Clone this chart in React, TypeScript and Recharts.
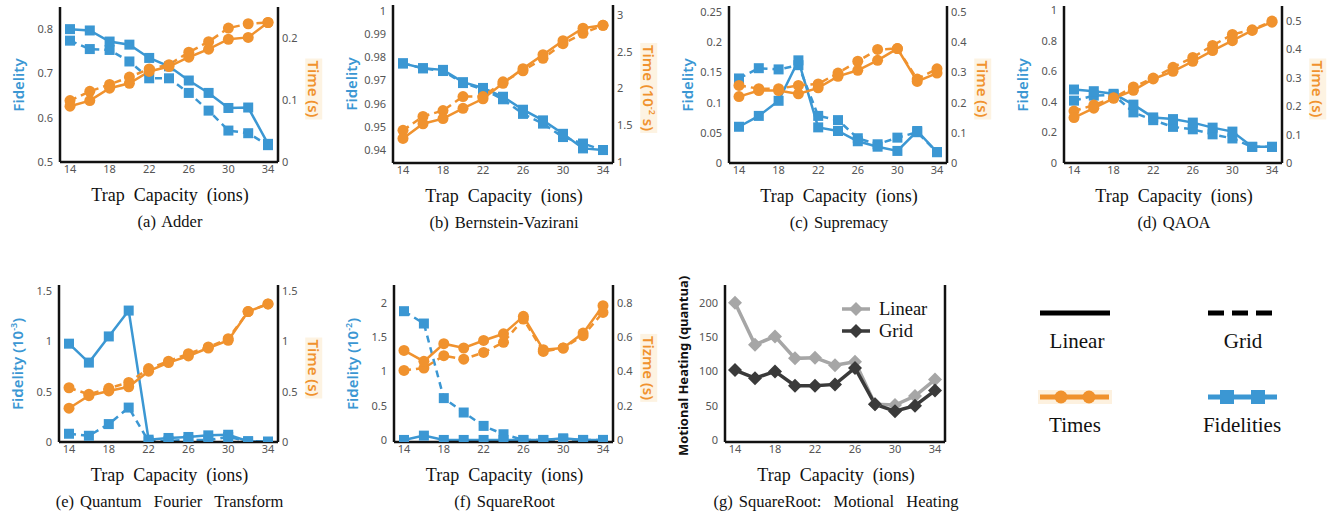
import React from 'react';
import { LineChart, Line, XAxis, YAxis, Legend } from 'recharts';

const BLUE = '#3b97d3';
const ORANGE = '#f0922e';
const LIGHT = '#a6a6a6';
const DARK = '#3a3a3a';

const caps = [14, 16, 18, 20, 22, 24, 26, 28, 30, 32, 34];
const capTicks = [14, 18, 22, 26, 30, 34];

// (a) Adder
const adderFidLinear = [0.8, 0.797, 0.772, 0.765, 0.735, 0.716, 0.684, 0.656, 0.622, 0.623, 0.541];
const adderFidGrid = [0.774, 0.755, 0.753, 0.727, 0.689, 0.689, 0.656, 0.616, 0.571, 0.565, 0.538];
const adderTimeLinear = [0.09, 0.099, 0.119, 0.127, 0.146, 0.154, 0.169, 0.182, 0.198, 0.201, 0.225];
const adderTimeGrid = [0.099, 0.114, 0.125, 0.137, 0.15, 0.157, 0.177, 0.194, 0.216, 0.223, 0.225];

// (b) Bernstein-Vazirani
const bvFidLinear = [0.9774, 0.9753, 0.9746, 0.9693, 0.9668, 0.963, 0.9574, 0.9528, 0.947, 0.9407, 0.94];
const bvFidGrid = [0.9774, 0.9753, 0.9741, 0.9689, 0.9662, 0.9619, 0.9556, 0.9514, 0.9456, 0.9428, 0.94];
const bvTimeLinear = [1.32, 1.52, 1.59, 1.73, 1.86, 2.07, 2.27, 2.46, 2.65, 2.82, 2.86];
const bvTimeGrid = [1.43, 1.62, 1.7, 1.89, 1.89, 2.09, 2.24, 2.41, 2.61, 2.75, 2.86];

// (c) Supremacy
const supFidLinear = [0.06, 0.078, 0.103, 0.17, 0.059, 0.053, 0.036, 0.027, 0.02, 0.053, 0.018];
const supFidGrid = [0.14, 0.157, 0.155, 0.162, 0.078, 0.071, 0.041, 0.031, 0.042, 0.051, 0.018];
const supTimeLinear = [0.22, 0.24, 0.24, 0.229, 0.249, 0.287, 0.307, 0.34, 0.379, 0.27, 0.298];
const supTimeGrid = [0.257, 0.246, 0.246, 0.257, 0.262, 0.298, 0.337, 0.376, 0.379, 0.278, 0.312];

// (d) QAOA
const qaoaFidLinear = [0.482, 0.471, 0.454, 0.383, 0.299, 0.288, 0.265, 0.232, 0.206, 0.106, 0.106];
const qaoaFidGrid = [0.409, 0.442, 0.447, 0.332, 0.281, 0.237, 0.221, 0.188, 0.161, 0.106, 0.106];
const qaoaTimeLinear = [0.16, 0.193, 0.228, 0.256, 0.296, 0.323, 0.358, 0.396, 0.431, 0.467, 0.496];
const qaoaTimeGrid = [0.183, 0.204, 0.23, 0.268, 0.299, 0.337, 0.372, 0.414, 0.453, 0.469, 0.5];

// (e) Quantum Fourier Transform
const qftFidLinear = [0.977, 0.789, 1.049, 1.306, 0.023, 0.04, 0.05, 0.066, 0.072, 0.007, 0];
const qftFidGrid = [0.082, 0.062, 0.178, 0.342, 0.007, 0.012, 0.02, 0.02, 0.05, 0.007, 0.005];
const qftTimeLinear = [0.336, 0.46, 0.507, 0.549, 0.704, 0.789, 0.855, 0.934, 1.01, 1.296, 1.372];
const qftTimeGrid = [0.539, 0.474, 0.533, 0.592, 0.73, 0.803, 0.878, 0.944, 1.026, 1.296, 1.372];

// (f) SquareRoot
const sqrtFidLinear = [0, 0.063, 0, 0, 0, 0, 0, 0, 0.024, 0, 0];
const sqrtFidGrid = [1.878, 1.698, 0.61, 0.4, 0.205, 0.083, 0, 0, 0.01, 0, 0];
const sqrtTimeLinear = [0.523, 0.459, 0.562, 0.537, 0.581, 0.62, 0.722, 0.527, 0.537, 0.624, 0.784];
const sqrtTimeGrid = [0.406, 0.42, 0.492, 0.472, 0.511, 0.57, 0.706, 0.517, 0.537, 0.609, 0.745];

// (g) SquareRoot: motional heating
const heatLinear = [200, 139, 151, 119, 120, 109, 114, 52, 51, 64, 88];
const heatGrid = [102, 90, 100, 79, 79, 81, 105, 52, 42, 50, 72];

const rowsFor = (fl, fg, tl, tg) =>
  caps.map((cap, i) => ({ cap, fl: fl[i], fg: fg[i], tl: tl[i], tg: tg[i] }));

const tickStyle = { fontSize: 11, fill: '#555', fontFamily: 'Noto Sans' };
const frameLine = { stroke: '#111', strokeWidth: 2.5 };
const serif = '"Times New Roman", "Liberation Serif", "DejaVu Serif", serif';

const squareDot = (color) => (p) =>
  p.cx == null ? null : (
    <rect key={`sq-${p.index}`} x={p.cx - 5} y={p.cy - 5} width={10} height={10} fill={color} />
  );
const circleDot = (color) => (p) =>
  p.cx == null ? null : <circle key={`ci-${p.index}`} cx={p.cx} cy={p.cy} r={5.5} fill={color} />;
const diamondDot = (color) => (p) =>
  p.cx == null ? null : (
    <polygon
      key={`di-${p.index}`}
      points={`${p.cx},${p.cy - 7} ${p.cx + 7},${p.cy} ${p.cx},${p.cy + 7} ${p.cx - 7},${p.cy}`}
      fill={color}
    />
  );

function Frame({ x0, x1, y0, y1, data, left, right, children }) {
  return (
    <div style={{ position: 'absolute', left: x0 - 45, top: y0 - 5 }}>
      <LineChart
        width={x1 - x0 + 90}
        height={y1 - y0 + 30}
        data={data}
        margin={{ top: 5, right: 0, bottom: 0, left: 0 }}
      >
        <XAxis
          dataKey="cap"
          type="number"
          domain={[14, 34]}
          ticks={capTicks}
          padding={{ left: 10, right: 10 }}
          height={25}
          axisLine={frameLine}
          tickLine={false}
          tick={tickStyle}
          tickSize={2}
          tickMargin={1}
          interval={0}
        />
        <XAxis
          xAxisId="top"
          orientation="top"
          dataKey="cap"
          type="number"
          domain={[14, 34]}
          height={0}
          tick={false}
          tickLine={false}
          axisLine={frameLine}
        />
        <YAxis
          yAxisId="l"
          domain={left.domain}
          ticks={left.ticks}
          allowDataOverflow
          width={45}
          axisLine={frameLine}
          tickLine={false}
          tick={tickStyle}
          tickSize={4}
          tickMargin={3}
          interval={0}
        />
        <YAxis
          yAxisId="r"
          orientation="right"
          domain={right.domain}
          ticks={right.ticks}
          allowDataOverflow
          width={45}
          axisLine={frameLine}
          tickLine={false}
          tick={right.ticks.length ? tickStyle : false}
          tickSize={3}
          tickMargin={1}
          interval={0}
        />
        {children}
      </LineChart>
    </div>
  );
}

function Titles({ x0, x1, y1, caption, children }) {
  const cx = (x0 + x1) / 2;
  return (
    <>
      <div
        style={{
          position: 'absolute', left: cx + 1, top: y1 + 33, transform: 'translate(-50%, -50%)',
          fontFamily: serif, fontSize: 18, whiteSpace: 'pre', color: '#111',
        }}
      >
        {'Trap  Capacity  (ions)'}
      </div>
      <div
        style={{
          position: 'absolute', left: cx + 1, top: y1 + 60, transform: 'translate(-50%, -50%)',
          fontFamily: serif, fontSize: 16.5, wordSpacing: 2, whiteSpace: 'pre', color: '#111',
        }}
      >
        {caption}
      </div>
      {children}
    </>
  );
}

function SideTitle({ x, y, side, color, bg, bold, size, children }) {
  return (
    <div
      style={{
        position: 'absolute', left: x, top: y,
        transform: `translate(-50%, -50%) rotate(${side === 'left' ? -90 : 90}deg)`,
        fontFamily: 'Noto Sans', fontSize: size || 15, fontWeight: bold ? 700 : 600,
        color, background: bg || 'transparent', whiteSpace: 'nowrap', padding: '0 2px', lineHeight: 1.1,
      }}
    >
      {children}
    </div>
  );
}

function FidTimePanel({ f, rows, left, right, caption, fidTitle, timeTitle }) {
  return (
    <>
      <Frame {...f} data={rows} left={left} right={right}>
        <Line yAxisId="l" dataKey="fg" stroke={BLUE} strokeWidth={2.5} strokeDasharray="7 5" dot={squareDot(BLUE)} isAnimationActive={false} />
        <Line yAxisId="l" dataKey="fl" stroke={BLUE} strokeWidth={2.5} dot={squareDot(BLUE)} isAnimationActive={false} />
        <Line yAxisId="r" dataKey="tg" stroke={ORANGE} strokeWidth={2.5} strokeDasharray="7 5" dot={circleDot(ORANGE)} isAnimationActive={false} />
        <Line yAxisId="r" dataKey="tl" stroke={ORANGE} strokeWidth={2.5} dot={circleDot(ORANGE)} isAnimationActive={false} />
      </Frame>
      <Titles {...f} caption={caption}>
        <SideTitle x={f.x0 - 42} y={(f.y0 + f.y1) / 2} side="left" color={BLUE}>{fidTitle}</SideTitle>
        <SideTitle x={f.x1 + 36} y={(f.y0 + f.y1) / 2 + 4} side="right" color={ORANGE} bg="#fdf3e2">{timeTitle}</SideTitle>
      </Titles>
    </>
  );
}

const fa = { x0: 60, x1: 278, y0: 7, y1: 162 };
const fb = { x0: 393, x1: 613, y0: 5, y1: 163 };
const fc = { x0: 729, x1: 947, y0: 6, y1: 163 };
const fd = { x0: 1064, x1: 1282, y0: 6, y1: 163 };
const fe = { x0: 59, x1: 278, y0: 285, y1: 442 };
const ff = { x0: 394, x1: 613, y0: 285, y1: 442 };
const fg = { x0: 725, x1: 945, y0: 285, y1: 442 };

const heatRows = caps.map((cap, i) => ({ cap, linear: heatLinear[i], grid: heatGrid[i] }));

function HeatLegend() {
  const items = [
    { name: 'Linear', color: LIGHT },
    { name: 'Grid', color: DARK },
  ];
  return (
    <div>
      {items.map((it) => (
        <div key={it.name} style={{ display: 'flex', alignItems: 'center', height: 22 }}>
          <svg width={28} height={16}>
            <line x1={0} y1={8} x2={28} y2={8} stroke={it.color} strokeWidth={3.5} />
            <polygon points="14,1 21,8 14,15 7,8" fill={it.color} />
          </svg>
          <span style={{ fontFamily: serif, fontSize: 18.5, color: '#111', marginLeft: 9 }}>{it.name}</span>
        </div>
      ))}
    </div>
  );
}

function KeyPanel() {
  const t = { fontFamily: serif, fontSize: 21 };
  return (
    <div style={{ position: 'absolute', left: 1000, top: 290, width: 330, height: 160 }}>
      <svg width={330} height={160} style={{ position: 'absolute', left: 0, top: 0 }}>
        <line x1={40} y1={23} x2={110} y2={23} stroke="#000" strokeWidth={5} />
        <line x1={208} y1={23} x2={274} y2={23} stroke="#000" strokeWidth={5} strokeDasharray="16 8" />
        <rect x={38} y={100} width={74} height={14} fill="#fdf1df" />
        <line x1={40} y1={107} x2={109} y2={107} stroke={ORANGE} strokeWidth={5} />
        <circle cx={61} cy={107} r={6.5} fill={ORANGE} />
        <circle cx={89} cy={107} r={6.5} fill={ORANGE} />
        <line x1={208} y1={107} x2={277} y2={107} stroke={BLUE} strokeWidth={5} />
        <rect x={220} y={100} width={14} height={14} fill={BLUE} />
        <rect x={251} y={100} width={14} height={14} fill={BLUE} />
        <text x={77} y={58} textAnchor="middle" style={t} fill="#111">Linear</text>
        <text x={243} y={58} textAnchor="middle" style={t} fill="#111">Grid</text>
        <text x={75} y={142} textAnchor="middle" style={t} fill="#111">Times</text>
        <text x={242} y={142} textAnchor="middle" style={t} fill="#111">Fidelities</text>
      </svg>
    </div>
  );
}

export default function App() {
  return (
    <div style={{ position: 'absolute', left: 0, top: 0, width: 1338, height: 512, background: '#fff' }}>
      <FidTimePanel
        f={fa}
        rows={rowsFor(adderFidLinear, adderFidGrid, adderTimeLinear, adderTimeGrid)}
        left={{ domain: [0.5, 0.85], ticks: [0.5, 0.6, 0.7, 0.8] }}
        right={{ domain: [0, 0.25], ticks: [0, 0.1, 0.2] }}
        caption="(a) Adder"
        fidTitle="Fidelity"
        timeTitle="Time (s)"
      />
      <FidTimePanel
        f={fb}
        rows={rowsFor(bvFidLinear, bvFidGrid, bvTimeLinear, bvTimeGrid)}
        left={{ domain: [0.9344, 1.0026], ticks: [0.94, 0.95, 0.96, 0.97, 0.98, 0.99, 1] }}
        right={{ domain: [0.986, 3.136], ticks: [1, 1.5, 2, 2.5, 3] }}
        caption="(b) Bernstein-Vazirani"
        fidTitle="Fidelity"
        timeTitle={<>Time (10<sup style={{ fontSize: 9 }}>-2</sup> s)</>}
      />
      <FidTimePanel
        f={fc}
        rows={rowsFor(supFidLinear, supFidGrid, supTimeLinear, supTimeGrid)}
        left={{ domain: [0, 0.26], ticks: [0, 0.05, 0.1, 0.15, 0.2, 0.25] }}
        right={{ domain: [0, 0.52], ticks: [0, 0.1, 0.2, 0.3, 0.4, 0.5] }}
        caption="(c) Supremacy"
        fidTitle="Fidelity"
        timeTitle="Time (s)"
      />
      <FidTimePanel
        f={fd}
        rows={rowsFor(qaoaFidLinear, qaoaFidGrid, qaoaTimeLinear, qaoaTimeGrid)}
        left={{ domain: [0, 1.03], ticks: [0, 0.2, 0.4, 0.6, 0.8, 1] }}
        right={{ domain: [0, 0.553], ticks: [0, 0.1, 0.2, 0.3, 0.4, 0.5] }}
        caption="(d) QAOA"
        fidTitle="Fidelity"
        timeTitle="Time (s)"
      />
      <FidTimePanel
        f={fe}
        rows={rowsFor(qftFidLinear, qftFidGrid, qftTimeLinear, qftTimeGrid)}
        left={{ domain: [0, 1.56], ticks: [0, 0.5, 1, 1.5] }}
        right={{ domain: [0, 1.56], ticks: [0, 0.5, 1, 1.5] }}
        caption={'(e) Quantum  Fourier  Transform'}
        fidTitle={<>Fidelity (10<sup style={{ fontSize: 9 }}>-3</sup>)</>}
        timeTitle="Time (s)"
      />
      <FidTimePanel
        f={ff}
        rows={rowsFor(sqrtFidLinear, sqrtFidGrid, sqrtTimeLinear, sqrtTimeGrid)}
        left={{ domain: [-0.03, 2.26], ticks: [0, 0.5, 1, 1.5, 2] }}
        right={{ domain: [-0.012, 0.905], ticks: [0, 0.2, 0.4, 0.6, 0.8] }}
        caption="(f) SquareRoot"
        fidTitle={<>Fidelity (10<sup style={{ fontSize: 9 }}>-2</sup>)</>}
        timeTitle="Tizme (s)"
      />

      <Frame {...fg} data={heatRows} left={{ domain: [-3, 226], ticks: [0, 50, 100, 150, 200] }} right={{ domain: [-3, 226], ticks: [] }}>
        <Line yAxisId="l" dataKey="linear" name="Linear" stroke={LIGHT} strokeWidth={3.5} dot={diamondDot(LIGHT)} isAnimationActive={false} />
        <Line yAxisId="l" dataKey="grid" name="Grid" stroke={DARK} strokeWidth={3.5} dot={diamondDot(DARK)} isAnimationActive={false} />
        <Legend
          layout="horizontal"
          align="center"
          verticalAlign="middle"
          content={() => <HeatLegend />}
          wrapperStyle={{ left: 162, top: 18, width: 'auto', height: 'auto' }}
        />
      </Frame>
      <Titles {...fg} caption={'(g) SquareRoot:  Motional  Heating'}>
        <SideTitle x={fg.x0 - 42} y={366} side="left" color="#111" bold size={13}>Motional Heating (quantua)</SideTitle>
      </Titles>

      <KeyPanel />
    </div>
  );
}
